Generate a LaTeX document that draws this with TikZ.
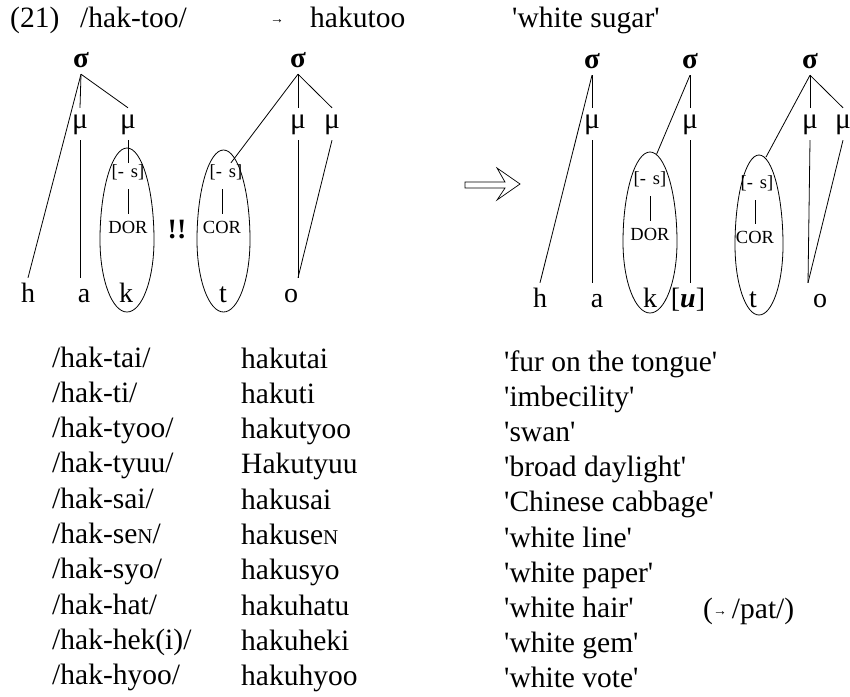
\documentclass[tikz,border=0pt]{standalone}
\usepackage{fontspec}
\setmainfont{Liberation Serif}
\newcommand\q{\textquotesingle}
\newcommand\smN{{\fontsize{21}{21}\selectfont N}}
% egg-shaped outline: centre x, y of widest point, half width, top rise, bottom drop
\newcommand\eggshape[5]{%
  \draw[egg] ({#1-#3},{#2})
    .. controls ({#1-#3},{#2-0.55*#4}) and ({#1-0.55*#3},{#2-#4}) .. ({#1},{#2-#4})
    .. controls ({#1+0.55*#3},{#2-#4}) and ({#1+#3},{#2-0.55*#4}) .. ({#1+#3},{#2})
    .. controls ({#1+#3},{#2+0.5523*#5}) and ({#1+0.5523*#3},{#2+#5}) .. ({#1},{#2+#5})
    .. controls ({#1-0.5523*#3},{#2+#5}) and ({#1-#3},{#2+0.5523*#5}) .. cycle;}
\tikzset{
  txt/.style={anchor=base west, inner sep=0pt, font=\fontsize{29.5}{35}\selectfont},
  syl/.style={anchor=base, font=\bfseries\fontsize{29}{29}\selectfont, text height=15pt, text depth=0pt, inner sep=7pt},
  mora/.style={anchor=base, font=\fontsize{29.5}{30}\selectfont, text height=14pt, text depth=6pt, inner sep=6pt},
  seg/.style={anchor=base, font=\fontsize{28}{28}\selectfont, text height=19pt, text depth=0pt, inner sep=5pt},
  feat/.style={anchor=base, font=\fontsize{18.5}{18.5}\selectfont, text height=12pt, text depth=3pt, inner sep=2pt},
  assoc/.style={line width=0.8pt},
  egg/.style={line width=0.8pt},
}
\begin{document}
\begin{tikzpicture}[x=1pt,y=-1pt]
\useasboundingbox (0,0) rectangle (850,696);

% heading line
\node[txt] (num) at (10,27) {(21)};
\node[txt] (ur) at (80,27) {/hak-too/};
\node[anchor=base, inner sep=0pt, font=\fontsize{14}{14}\selectfont] (arr) at (277,23) {→};
\node[txt] (sr) at (310,27) {hakutoo};
\node[txt] (gl) at (512,27) {\q white sugar\q};

% ---------- input structure ----------
\node[syl] (s1) at (81,67) {σ};
\node[syl] (s2) at (298,67) {σ};
\node[mora] (m1) at (80,128) {μ};
\node[mora] (m2) at (128,128) {μ};
\node[mora] (m3) at (298,128) {μ};
\node[mora] (m4) at (332,128) {μ};
\node[seg] (h1) at (28,302) {h};
\node[seg] (a1) at (84,302) {a};
\node[seg] (k1) at (126,302) {k};
\node[seg] (t1) at (223,302) {t};
\node[seg] (o1) at (291,302) {o};
\node[feat] (f1) at (128,177) {[-\hspace{7pt}s]};
\node[feat] (d1) at (128,233) {DOR};
\node[feat] (f2) at (226,177) {[-\hspace{7pt}s]};
\node[feat] (d2) at (222,233) {COR};
\node[anchor=base, inner sep=0pt, font=\bfseries\fontsize{28}{28}\selectfont] (bang) at (177,238) {!!};
\eggshape{127}{240}{27}{92}{72}
\eggshape{223.5}{240}{26.5}{90}{72}

\draw[assoc] (s1.south) -- (m1.north);
\draw[assoc] (s1.south) -- (m2.north);
\draw[assoc] (s1.south) -- (h1.north);
\draw[assoc] (m1.south) -- (m1.south |- a1.north);
\draw[assoc] (m2.south) -- (m2.south |- f1.north);
\draw[assoc, shorten <=7pt, shorten >=5pt] (d1.north |- f1.south) -- (d1.north);
\draw[assoc, shorten <=7pt, shorten >=5pt] (d2.north |- f2.south) -- (d2.north);
\draw[assoc] (s2.south) -- ([xshift=5pt]f2.north);
\draw[assoc] (s2.south) -- (m3.north);
\draw[assoc] (s2.south) -- (m4.north);
\draw[assoc] (m3.south) -- ([xshift=7pt]o1.north);
\draw[assoc] (m4.south) -- ([xshift=7pt]o1.north);

% rewriting arrow
\draw[line width=0.7pt, line join=miter] (465,182) -- (505,182) -- (497,168) -- (520,184)
  -- (497,200) -- (505,188) -- (465,188) -- cycle;

% ---------- output structure ----------
\node[syl] (s3) at (592,68) {σ};
\node[syl] (s4) at (690,68) {σ};
\node[syl] (s5) at (810,68) {σ};
\node[mora] (m5) at (592,128) {μ};
\node[mora] (m6) at (690,128) {μ};
\node[mora] (m7) at (810,128) {μ};
\node[mora] (m8) at (843,128) {μ};
\node[seg] (h2) at (540,307) {h};
\node[seg] (a2) at (597,307) {a};
\node[seg] (k2) at (650,307) {k};
\node[seg] (u2) at (688,307) {[\textbf{\textit{u}}]};
\node[seg] (t2) at (753,307) {t};
\node[seg] (o2) at (820,307) {o};
\node[feat] (f3) at (650,184) {[-\hspace{7pt}s]};
\node[feat] (d3) at (650,240) {DOR};
\node[feat] (f4) at (757,188) {[-\hspace{7pt}s]};
\node[feat] (d4) at (755,243) {COR};
\eggshape{650}{242}{27}{90}{71}
\eggshape{759}{245}{24}{90}{70}

\draw[assoc] (s3.south) -- (m5.north);
\draw[assoc] (s3.south) -- (h2.north);
\draw[assoc] (m5.south) -- (m5.south |- a2.north);
\draw[assoc, shorten >=17pt] (s4.south) -- (f3.north);
\draw[assoc] (s4.south) -- (m6.north);
\draw[assoc] (m6.south) -- (m6.south |- u2.north);
\draw[assoc, shorten <=7pt, shorten >=5pt] (d3.north |- f3.south) -- (d3.north);
\draw[assoc, shorten <=7pt, shorten >=5pt] (d4.north |- f4.south) -- (d4.north);
\draw[assoc, shorten >=19pt] (s5.south) -- (f4.north);
\draw[assoc] (s5.south) -- (m7.north);
\draw[assoc] (s5.south) -- (m8.north);
\draw[assoc] (m7.south) -- ([xshift=-12pt]o2.north);
\draw[assoc] (m8.south) -- ([xshift=-12pt]o2.north);

% ---------- further examples ----------
\node[txt] (u1)  at (52,367.0) {/hak-tai/};
\node[txt] (u2a) at (52,402.3) {/hak-ti/};
\node[txt] (u3)  at (52,437.6) {/hak-tyoo/};
\node[txt] (u4)  at (52,472.9) {/hak-tyuu/};
\node[txt] (u5)  at (52,508.2) {/hak-sai/};
\node[txt] (u6)  at (52,543.5) {/hak-se\smN/};
\node[txt] (u7)  at (52,578.8) {/hak-syo/};
\node[txt] (u8)  at (52,614.1) {/hak-hat/};
\node[txt] (u9)  at (52,649.4) {/hak-hek(i)/};
\node[txt] (u10) at (52,684.7) {/hak-hyoo/};

\node[txt] (r1)  at (241,368.0) {hakutai};
\node[txt] (r2)  at (241,403.3) {hakuti};
\node[txt] (r3)  at (241,438.6) {hakutyoo};
\node[txt] (r4)  at (241,473.9) {Hakutyuu};
\node[txt] (r5)  at (241,509.2) {hakusai};
\node[txt] (r6)  at (241,544.5) {hakuse\smN};
\node[txt] (r7)  at (241,579.8) {hakusyo};
\node[txt] (r8)  at (241,615.1) {hakuhatu};
\node[txt] (r9)  at (241,650.4) {hakuheki};
\node[txt] (r10) at (241,685.7) {hakuhyoo};

\node[txt] (g1)  at (504,371.5) {\q fur on the tongue\q};
\node[txt] (g2)  at (504,406.6) {\q imbecility\q};
\node[txt] (g3)  at (504,441.7) {\q swan\q};
\node[txt] (g4)  at (504,476.8) {\q broad daylight\q};
\node[txt] (g5)  at (504,511.9) {\q Chinese cabbage\q};
\node[txt] (g6)  at (504,547.0) {\q white line\q};
\node[txt] (g7)  at (504,582.1) {\q white paper\q};
\node[txt] (g8)  at (504,617.2) {\q white hair\q};
\node[txt] (g9)  at (504,652.3) {\q white gem\q};
\node[txt] (g10) at (504,687.4) {\q white vote\q};
\node[txt] (note) at (703,618) {(\raisebox{3pt}{\fontsize{14}{14}\selectfont →}\,/pat/)};
\end{tikzpicture}
\end{document}
